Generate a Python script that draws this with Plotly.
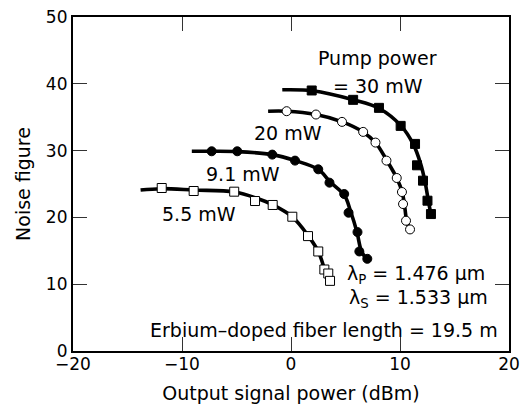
import plotly.graph_objects as go

# ---- data ----
pump_labels = ["30 mW", "20 mW", "9.1 mW", "5.5 mW"]

# measured points
x30 = [1.9, 5.7, 8.07, 10.06, 11.38, 11.56, 12.11, 12.52, 12.84]
y30 = [39.0, 37.6, 36.4, 33.7, 31.0, 27.8, 25.5, 22.5, 20.5]

x20 = [-0.4, 2.29, 4.68, 6.62, 7.75, 8.76, 9.7, 10.18, 10.28, 10.55, 10.92]
y20 = [35.9, 35.4, 34.3, 32.8, 31.2, 28.5, 25.9, 23.8, 22.0, 19.5, 18.2]

x91 = [-7.28, -4.93, -1.72, 0.37, 2.5, 3.53, 4.88, 5.28, 6.1, 6.27, 7.0]
y91 = [29.9, 29.9, 29.4, 28.5, 27.2, 25.2, 23.5, 20.7, 17.8, 14.9, 13.8]

x55 = [-11.86, -8.93, -5.21, -3.3, -1.68, 0.12, 1.56, 2.5, 3.06, 3.42, 3.58]
y55 = [24.4, 23.95, 23.85, 22.45, 21.86, 20.1, 17.2, 14.9, 12.2, 11.6, 10.5]

# fitted curves
cx30 = [-0.8, 2.0, 5.7, 8.1, 10.1, 11.2, 11.9, 12.3, 12.6, 12.8]
cy30 = [39.1, 38.95, 37.6, 36.3, 33.7, 31.0, 28.0, 25.3, 22.5, 20.8]

cx20 = [-2.1, -0.4, 2.3, 4.7, 6.6, 7.75, 8.8, 9.7, 10.2, 10.4, 10.6, 10.85]
cy20 = [35.9, 35.9, 35.4, 34.3, 32.8, 31.2, 28.5, 25.9, 23.8, 22.0, 19.6, 18.3]

cx91 = [-9.1, -7.3, -4.9, -1.7, 0.4, 2.5, 3.6, 4.9, 5.45, 6.05, 6.45, 6.9]
cy91 = [29.9, 29.9, 29.85, 29.4, 28.5, 27.2, 25.3, 23.3, 21.0, 17.8, 15.0, 13.8]

cx55 = [-13.8, -11.9, -8.9, -5.2, -3.2, -1.7, 0.1, 1.6, 2.5, 3.0]
cy55 = [24.1, 24.3, 24.1, 23.8, 22.9, 21.9, 20.1, 17.2, 14.9, 12.6]

x_ticks = [-20, -10, 0, 10, 20]
y_ticks = [0, 10, 20, 30, 40, 50]

FONT = "DejaVu Sans"

fig = go.Figure()

curves = [(cx30, cy30), (cx20, cy20), (cx91, cy91), (cx55, cy55)]
for cx, cy in curves:
    fig.add_trace(go.Scatter(x=cx, y=cy, mode="lines",
                             line=dict(color="black", width=3.6, shape="spline", smoothing=1),
                             showlegend=False, hoverinfo="skip"))

markers = [
    (x30, y30, "square", "black"),
    (x20, y20, "circle", "white"),
    (x91, y91, "circle", "black"),
    (x55, y55, "square", "white"),
]
for (mx, my, sym, fill), name in zip(markers, pump_labels):
    fig.add_trace(go.Scatter(x=mx, y=my, mode="markers", name=name,
                             marker=dict(symbol=sym, size=9, color=fill,
                                         line=dict(color="black", width=1)),
                             showlegend=False))

annots = [
    (7.9, 43.9, "Pump power", "center"),
    (7.95, 39.6, "= 30 mW", "center"),
    (-0.32, 32.6, "20 mW", "center"),
    (-4.45, 26.5, "9.1 mW", "center"),
    (-8.44, 20.5, "5.5 mW", "center"),
    (4.95, 11.4, "λ<sub>P</sub> = 1.476 μm", "left"),
    (5.1, 7.8, "λ<sub>S</sub> = 1.533 μm", "left"),
    (19.2, 3.1, "Erbium–doped fiber length = 19.5 m", "right"),
]
for ax, ay, txt, anc in annots:
    fig.add_annotation(x=ax, y=ay, text=txt, showarrow=False, xanchor=anc, yanchor="middle",
                       font=dict(family=FONT, size=19, color="black"))

axis_common = dict(showline=True, linecolor="black", linewidth=2.2, mirror="ticks",
                   ticks="inside", ticklen=14, tickwidth=1.3, tickcolor="#333",
                   showgrid=False, zeroline=False, automargin=False,
                   tickfont=dict(family=FONT, size=17, color="black"))

fig.update_xaxes(range=[-20, 20], tickvals=x_ticks, ticktext=[str(v).replace("-", "−") for v in x_ticks],
                 ticklabelstandoff=-4,
                 title=dict(text="Output signal power (dBm)", font=dict(family=FONT, size=19, color="black"),
                            standoff=14),
                 **axis_common)
fig.update_yaxes(range=[0, 50], tickvals=y_ticks, title=dict(text="Noise figure",
                 font=dict(family=FONT, size=19, color="black"), standoff=10),
                 **axis_common)

fig.update_layout(width=526, height=409, margin=dict(l=73, r=17, t=17, b=58),
                  plot_bgcolor="white", paper_bgcolor="white", showlegend=False)

fig.write_html("out.html")
